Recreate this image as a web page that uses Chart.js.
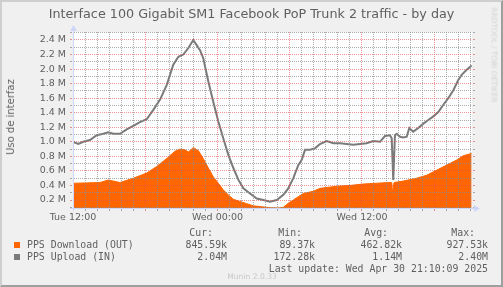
<!DOCTYPE html>
<html><head><meta charset="utf-8">
<script src="https://cdn.jsdelivr.net/npm/chart.js@4/dist/chart.umd.min.js"></script>
<style>
html,body{margin:0;padding:0;background:#F0F0F0;}
#wrap{position:relative;width:503px;height:287px;overflow:hidden;background:#F0F0F0;}
#frame{position:absolute;left:0;top:0;width:499px;height:283px;border-style:solid;border-width:2px;border-color:#CFCFCF #9E9E9E #9E9E9E #CFCFCF;pointer-events:none;}
canvas{position:absolute;left:0;top:0;}
.t{position:absolute;white-space:nowrap;color:#606060;font-family:"DejaVu Sans";}
.m{position:absolute;white-space:nowrap;color:#606060;font-family:"DejaVu Sans Mono";font-size:9.85px;line-height:12px;height:12px;}
.sq{position:absolute;width:6px;height:6px;}
</style></head>
<body>
<div id="wrap">
<canvas id="c" width="503" height="287"></canvas>
<div class="t" id="title" style="left:0;width:503px;text-align:center;top:6px;font-size:12.75px;line-height:16px;">Interface 100 Gigabit SM1 Facebook PoP Trunk 2 traffic - by day</div>
<div class="t" style="left:11px;top:117px;font-size:10px;line-height:12px;transform:translate(-50%,-50%) rotate(-90deg);">Uso de interfaz</div>
<div class="t" style="left:494px;top:55px;font-size:7.4px;line-height:9px;color:#d2d2d2;transform:translate(-50%,-50%) rotate(90deg);">RRDTOOL / TOBI OETIKER</div>
<div id="legend"></div>
<div class="t" style="left:252px;top:277px;font-size:7.6px;line-height:10px;color:#c8c8c8;transform:translate(-50%,-50%);">Munin 2.0.33</div>
<div id="frame"></div>
</div>
<script>
// ---- data (hours since Tue 12:00, values in millions of packets/s) ----
const uploadHours = [0,0.44,0.86,1.41,1.97, 2.52,2.93,3.35,3.9,4.46, 5.01,5.56,6.12,6.67,7.23, 7.78,8.33,8.75,9.16,9.58,
  9.99,10.27,10.55,10.82,11.24, 11.65,12.07,12.48,12.9,13.32, 13.73,14.15,14.7,15.26,15.81, 16.36,16.92,17.47,17.88,18.3,
  18.71,18.99,19.27,19.68,20.1, 20.51,21.07,21.62,22.18,22.73, 23.28,23.84,24.39,24.94,25.5, 25.91,26.33,26.47,26.6,26.74,
  26.89,27.16,27.43,27.72,27.93, 28.26,28.68,29.1,29.51,29.93, 30.34,30.76,31.17,31.59,32.0, 32.28,32.7,33.11];
const uploadValues = [1.00,0.97,1.00,1.025,1.09, 1.11,1.13,1.11,1.11,1.17, 1.22,1.27,1.31,1.44,1.58, 1.78,2.06,2.17,2.20,2.29,
  2.40,2.33,2.26,2.15,1.83, 1.55,1.28,1.05,0.82,0.64, 0.48,0.36,0.29,0.22,0.20, 0.175,0.20,0.27,0.36,0.50,
  0.68,0.75,0.89,0.89,0.91, 0.97,1.01,0.98,0.98,0.97, 0.96,0.97,0.98,1.01,1.00, 1.08,1.09,1.05,0.475,1.09,
  1.11,1.07,1.06,1.07,1.19, 1.14,1.19,1.25,1.30,1.35, 1.41,1.51,1.60,1.71,1.85, 1.92,1.99,2.05];
const downloadHours = [0,1.13,2.24,2.93,3.9, 5.01,6.12,6.95,7.78,8.47, 8.89,9.3,9.58,9.99,10.41, 10.82,11.24,11.65,12.07,12.48,
  12.9,13.32,13.87,14.43,14.98, 15.53,16.36,17.05,17.47,17.88, 18.3,18.71,19.13,19.96,20.51, 21.9,23.0,24.11,25.22,26.19,
  26.47,26.55,26.66,27.43,28.54, 29.37,30.2,31.04,31.87,32.42, 33.11];
const downloadValues = [0.43,0.435,0.44,0.475,0.44, 0.50,0.57,0.66,0.77,0.87, 0.90,0.89,0.86,0.92,0.88, 0.77,0.64,0.52,0.43,0.34,
  0.27,0.21,0.18,0.15,0.12, 0.11,0.094,0.09,0.10,0.155, 0.20,0.245,0.29,0.32,0.36, 0.39,0.40,0.42,0.43,0.44,
  0.44,0.29,0.44,0.46,0.50, 0.54,0.61,0.68,0.75,0.81, 0.84];

const yMajorTicks = [0.2,0.4,0.6,0.8,1.0,1.2,1.4,1.6,1.8,2.0,2.2,2.4];
const yMinorTicks = [0.1,0.3,0.5,0.7,0.9,1.1,1.3,1.5,1.7,1.9,2.1,2.3,2.5];
const xGridHours = [0,1,2,3,4,5,6,7,8,9,10,11,12,13,14,15,16,17,18,19,20,21,22,23,24,25,26,27,28,29,30,31,32,33];
const xMajorHours = [0,6,12,18,24,30];
const xLabelHours = [0,12,24];
const xLabelText = ['Tue 12:00','Wed 00:00','Wed 12:00'];

const legendSeries = ['PPS Download (OUT)','PPS Upload (IN)'];
const legendColors = ['#FF6600','#7A7A7A'];
const legendHeaders = ['Cur:','Min:','Avg:','Max:'];
const legendRows = [['845.59k','89.37k','462.82k','927.53k'],['2.04M','172.28k','1.14M','2.40M']];
const lastUpdate = 'Last update: Wed Apr 30 21:10:09 2025';

// ---- legend (HTML text) ----
(function(){
  const L = document.getElementById('legend');
  const hdrRight = [213,302,388,475];
  const valRight = [227,315,402,488];
  const rowY = [245.3,257.3];
  const add = (txt, style) => { const d=document.createElement('div'); d.className='m'; d.textContent=txt; Object.assign(d.style, style); L.appendChild(d); return d; };
  legendHeaders.forEach((h,i)=>add(h,{right:(503-hdrRight[i])+'px',top:(233.3-6)+'px'}));
  legendSeries.forEach((s,r)=>{
    const sq=document.createElement('div'); sq.className='sq'; sq.style.left='14px'; sq.style.top=(rowY[r]-3)+'px'; sq.style.background=legendColors[r]; L.appendChild(sq);
    add(s,{left:'27px',top:(rowY[r]-6)+'px'});
    legendRows[r].forEach((v,i)=>add(v,{right:(503-valRight[i])+'px',top:(rowY[r]-6)+'px'}));
  });
  add(lastUpdate,{right:(503-488)+'px',top:(269.3-6)+'px'});
})();

const toPts = (xs, ys) => xs.map((x,i)=>({x:x, y:ys[i]}));
const MINOR_GRID = 'rgba(143,143,143,0.75)';
const MAJOR_GRID = 'rgba(222,80,80,0.6)';
const AXIS = '#CFD6F8';

const muninPlugin = {
  id:'munin',
  beforeDraw(c){
    const a=c.chartArea, ctx=c.ctx;
    ctx.save(); ctx.fillStyle='#FFFFFF'; ctx.fillRect(a.left,a.top,a.right-a.left,a.bottom-a.top); ctx.restore();
  },
  afterDatasetsDraw(c){
    // dotted grid drawn over the data, positioned by the chart's scales
    const a=c.chartArea, ctx=c.ctx, xs=c.scales.x, ys=c.scales.y;
    const top=Math.round(a.top), bot=Math.round(a.bottom), left=Math.round(a.left), right=Math.round(a.right);
    ctx.save();
    xGridHours.forEach(h=>{
      const col=Math.floor(xs.getPixelForValue(h));
      ctx.fillStyle = xMajorHours.includes(h) ? MAJOR_GRID : MINOR_GRID;
      for(let y=top; y<bot; y+=2) ctx.fillRect(col,y,1,1);
      ctx.fillRect(col,bot+1,1,2);
    });
    yMinorTicks.concat(yMajorTicks).forEach(v=>{
      const row=Math.floor(ys.getPixelForValue(v));
      if(row>=bot) return;
      ctx.fillStyle = yMajorTicks.includes(v) ? MAJOR_GRID : MINOR_GRID;
      for(let x=left+1; x<right; x+=2) ctx.fillRect(x,row,1,1);
      ctx.fillRect(left-3,row,2,1);
      ctx.fillRect(right+1,row,2,1);
    });
    ctx.restore();
  },
  afterDraw(c){
    const a=c.chartArea, ctx=c.ctx;
    ctx.save();
    ctx.strokeStyle=AXIS; ctx.fillStyle=AXIS; ctx.lineWidth=1;
    const yb=Math.round(a.bottom)+0.5, xl=Math.round(a.left)+0.5;
    ctx.beginPath(); ctx.moveTo(a.left-3,yb); ctx.lineTo(a.right+3,yb); ctx.stroke();
    ctx.beginPath(); ctx.moveTo(a.right+2,yb-3.5); ctx.lineTo(a.right+8,yb); ctx.lineTo(a.right+2,yb+3.5); ctx.closePath(); ctx.fill();
    ctx.beginPath(); ctx.moveTo(xl,a.bottom+3); ctx.lineTo(xl,a.top-2); ctx.stroke();
    ctx.beginPath(); ctx.moveTo(xl-3.5,a.top-1); ctx.lineTo(xl,a.top-7); ctx.lineTo(xl+3.5,a.top-1); ctx.closePath(); ctx.fill();
    ctx.restore();
  }
};

new Chart(document.getElementById('c'), {
  type:'line',
  data:{ datasets:[
    { label:legendSeries[1], data:toPts(uploadHours, uploadValues), borderColor:legendColors[1], borderWidth:2, pointRadius:0, fill:false, tension:0 },
    { label:legendSeries[0], data:toPts(downloadHours, downloadValues), borderColor:legendColors[0], backgroundColor:legendColors[0], borderWidth:1, pointRadius:0, fill:'start', tension:0 }
  ]},
  options:{
    responsive:false, animation:false, devicePixelRatio:1, events:[],
    layout:{ padding:{ left:0, top:32, right:31, bottom:0 } },
    plugins:{ legend:{display:false}, tooltip:{enabled:false}, title:{display:false} },
    scales:{
      x:{ type:'linear', min:0, max:33.14,
        afterFit: s => { s.height = 287-208; },
        afterBuildTicks: s => { s.ticks = xLabelHours.map(v=>({value:v})); },
        grid:{ display:false, drawTicks:true, tickLength:2 },
        border:{ display:false },
        ticks:{ autoSkip:false, maxRotation:0, padding:2, color:'#606060', font:{family:'DejaVu Sans', size:9.5},
          callback: v => { const i = xLabelHours.indexOf(v); return i>=0 ? xLabelText[i] : ''; } }
      },
      y:{ type:'linear', min:0.09, max:2.51,
        afterFit: s => { s.width = 73; },
        afterBuildTicks: s => { s.ticks = yMajorTicks.map(v=>({value:v})); },
        grid:{ display:false, drawTicks:true, tickLength:2 },
        border:{ display:false },
        ticks:{ autoSkip:false, padding:5, color:'#606060', font:{family:'DejaVu Sans', size:9.5},
          callback: v => v.toFixed(1)+' M' }
      }
    }
  },
  plugins:[muninPlugin]
});
</script>
</body></html>
